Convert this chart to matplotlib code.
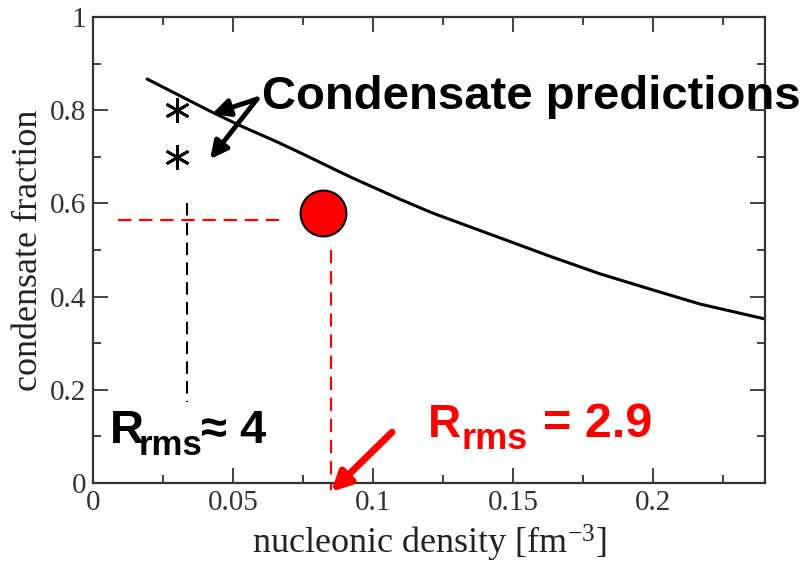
import numpy as np
import matplotlib
matplotlib.use('Agg')
import matplotlib.pyplot as plt
from matplotlib.ticker import MultipleLocator

plt.rcParams['mathtext.default'] = 'regular'

# condensate fraction vs nucleonic density (theory curve)
density = [0.0193, 0.0418, 0.0525, 0.065, 0.0739, 0.0918, 0.1096, 0.1214,
           0.1454, 0.163, 0.181, 0.199, 0.2168, 0.240]
fraction = [0.867, 0.798, 0.767, 0.734, 0.709, 0.657, 0.609, 0.579,
            0.526, 0.487, 0.449, 0.416, 0.384, 0.352]

# condensate predictions (asterisks)
pred_density = [0.030, 0.030]
pred_fraction = [0.80, 0.70]

# measured point for R_rms = 2.9
meas_density = 0.082
meas_fraction = 0.579
guide_y = 0.565
guide_x = 0.085
guide_x_black = 0.0336

W, H = 807, 567
fig = plt.figure(figsize=(W / 100, H / 100), dpi=100)
ax = fig.add_axes([93 / W, 84 / H, 672 / W, 466 / H])

serif = 'Liberation Serif'
sans = 'Liberation Sans'

ax.plot(density, fraction, color='black', lw=2.2, solid_capstyle='round',
        solid_joinstyle='round')
ax.plot(pred_density, pred_fraction, ls='none', marker=(6, 2, 0),
        ms=18, mew=2, color='black')

# dashed guides
ax.plot([0.0089, 0.0668], [guide_y, guide_y], color='red', lw=1.6, ls=(0, (6, 3.5)))
ax.plot([guide_x, guide_x], [0.50, -0.016], color='red', lw=1.6,
        ls=(0, (6, 3.5)), clip_on=False)
ax.plot([guide_x_black, guide_x_black], [0.601, 0.174], color='black', lw=1.5,
        ls=(0, (6, 3.5)))

ax.plot([meas_density], [meas_fraction], marker='o', ms=33, color='red',
        mec='black', mew=1.5, zorder=5)

# arrows
arrow_kw = dict(arrowstyle='-|>', color='black', lw=3.5, mutation_scale=26,
                shrinkA=0, shrinkB=0)
ax.annotate('', xy=(0.0425, 0.792), xytext=(0.0586, 0.824), arrowprops=arrow_kw)
ax.annotate('', xy=(0.0418, 0.695), xytext=(0.0586, 0.824), arrowprops=arrow_kw)
ax.annotate('', xy=(0.085, -0.019), xytext=(0.1068, 0.109),
            arrowprops=dict(arrowstyle='-|>', color='red', lw=5,
                            mutation_scale=28, shrinkA=0, shrinkB=0),
            annotation_clip=False)

ax.set_xlim(0, 0.24)
ax.set_ylim(0, 1)
ax.xaxis.set_major_locator(MultipleLocator(0.05))
ax.xaxis.set_minor_locator(MultipleLocator(0.025))
ax.yaxis.set_major_locator(MultipleLocator(0.2))
ax.yaxis.set_minor_locator(MultipleLocator(0.1))
ax.set_xticklabels([f'{v:g}' for v in ax.get_xticks()])
ax.set_yticklabels([f'{v:g}' for v in ax.get_yticks()])
ax.tick_params(which='both', direction='in', top=True, right=True,
               color='#333333', width=1.3, labelcolor='#333333',
               labelsize=21, pad=5)
ax.tick_params(which='major', length=11)
ax.tick_params(which='minor', length=6)
for lab in ax.get_xticklabels() + ax.get_yticklabels():
    lab.set_family(serif)
for sp in ax.spines.values():
    sp.set_color('#333333')
    sp.set_linewidth(1.6)

ax.set_xlabel('nucleonic density [fm$^{-3}$]', family=serif, fontsize=26,
              color='#222222')
ax.xaxis.set_label_coords(0.5, -0.085)
ax.set_ylabel('condensate fraction', family=serif, fontsize=26, color='#222222')
ax.yaxis.set_label_coords(-0.072, 0.5)


def ftext(px, py, s, size, color):
    fig.text(px / W, 1 - py / H, s, fontsize=size, color=color, family=sans,
             weight='bold', ha='left', va='baseline')


ftext(262, 109, 'Condensate predictions', 34, 'black')

ftext(110, 443, 'R', 34, 'black')
ftext(139, 455, 'rms', 25, 'black')
ftext(201, 443, '≈ 4', 34, 'black')

ftext(428, 437, 'R', 33, 'red')
ftext(462, 449, 'rms', 26, 'red')
ftext(543, 437, '= 2.9', 35, 'red')

fig.savefig('out.png', dpi=100)
